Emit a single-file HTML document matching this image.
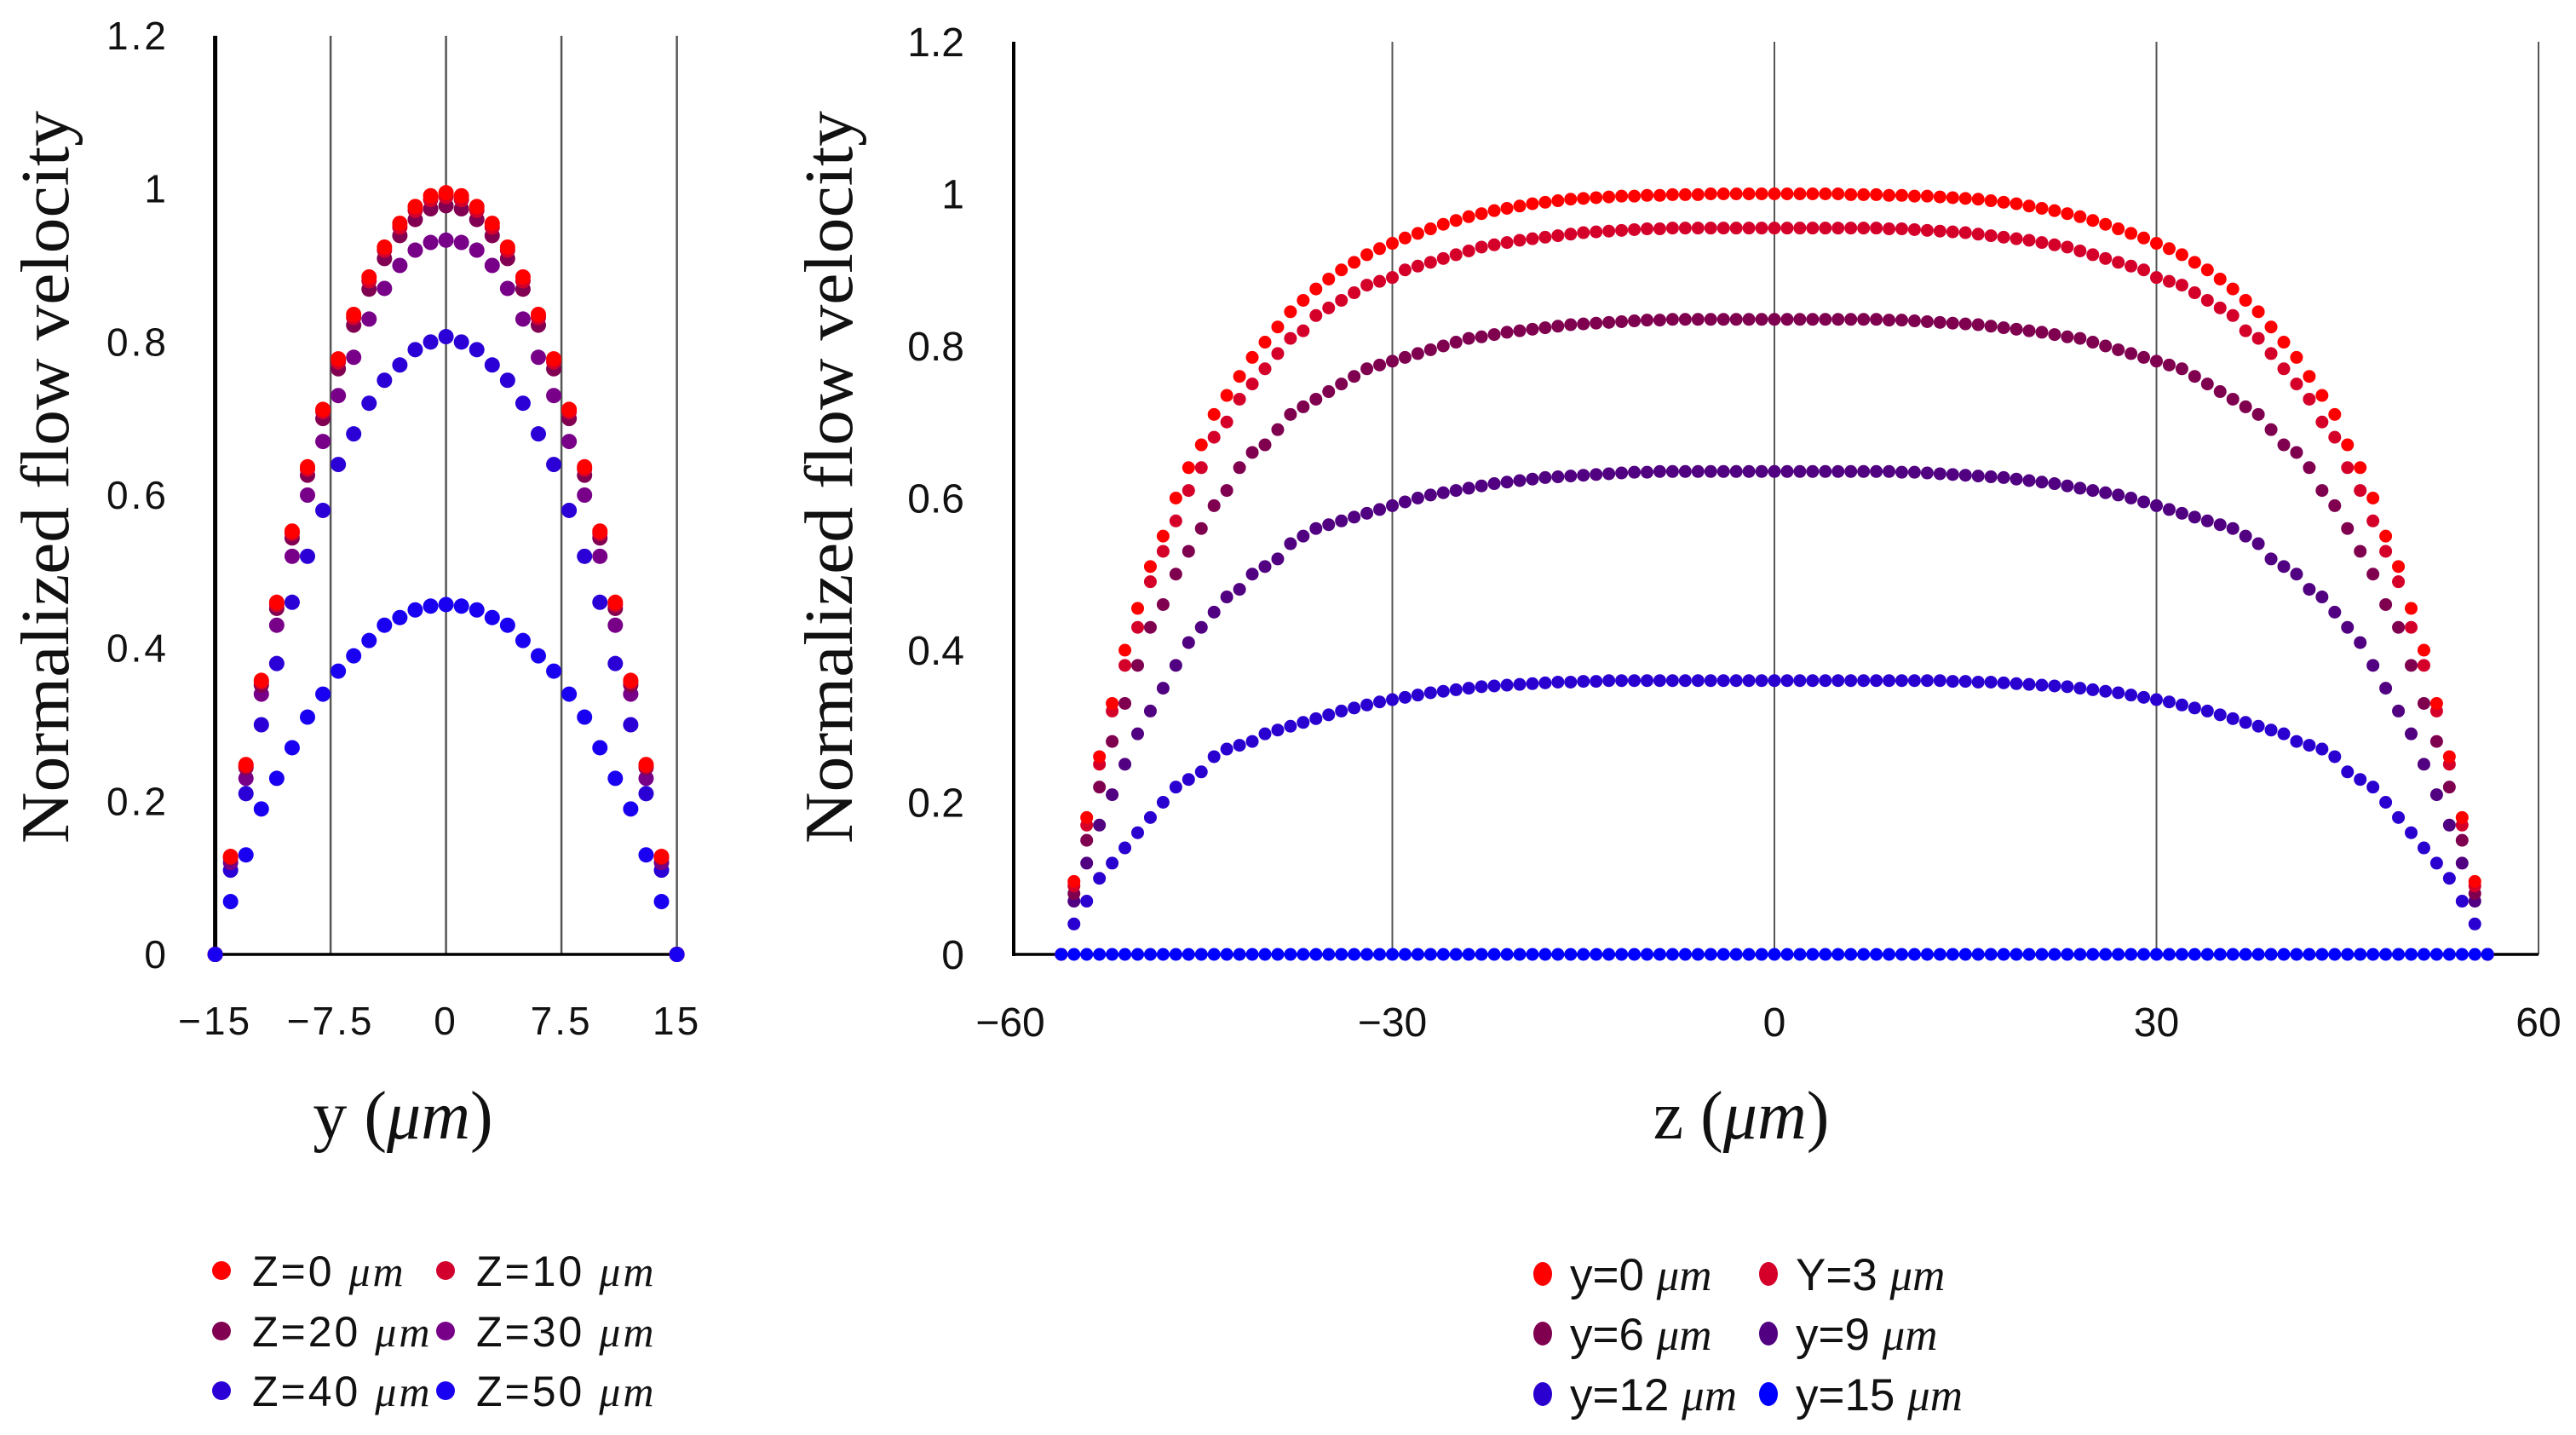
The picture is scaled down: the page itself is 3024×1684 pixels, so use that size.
<!DOCTYPE html>
<html><head><meta charset="utf-8"><style>
html,body{margin:0;padding:0;background:#fff;}
svg{display:block;}
.tk{font-family:"Liberation Sans",sans-serif;font-size:46px;letter-spacing:3px;fill:#111;}
.tkr{font-family:"Liberation Sans",sans-serif;font-size:48px;fill:#111;}
.ttl{font-family:"Liberation Serif",serif;font-size:80px;fill:#111;}
.lg{font-family:"Liberation Sans",sans-serif;font-size:50px;letter-spacing:3px;fill:#111;}
.lgr{font-family:"Liberation Sans",sans-serif;font-size:53px;fill:#111;}
.mu{font-family:"Liberation Serif",serif;font-style:italic;}
</style></head><body>
<svg id="svg" width="3024" height="1684" viewBox="0 0 3024 1684" xmlns="http://www.w3.org/2000/svg">
<g id="left"></g>
<g id="right"></g>
</svg>
<script>
// ---------- Left chart data ----------
const leftY = [-15,-14,-13,-12,-11,-10,-9,-8,-7,-6,-5,-4,-3,-2,-1,0,1,2,3,4,5,6,7,8,9,10,11,12,13,14,15];
const leftNames = ["Z=0 ","Z=10 ","Z=20 ","Z=30 ","Z=40 ","Z=50 "];
const leftColors = ["#ff0000","#d2002c","#820052","#780088","#2a00d6","#1a00f0"];
const leftZ0  = [0,.128,.248,.358,.46,.553,.637,.712,.778,.836,.885,.924,.955,.977,.991,.995,.991,.977,.955,.924,.885,.836,.778,.712,.637,.553,.46,.358,.248,.128,0];
const leftZ10 = [0,.127,.246,.356,.457,.55,.634,.709,.774,.832,.88,.92,.95,.972,.986,.99,.986,.972,.95,.92,.88,.832,.774,.709,.634,.55,.457,.356,.246,.127,0];
const leftZ20 = [0,.126,.244,.352,.452,.544,.626,.70,.765,.822,.869,.909,.939,.960,.974,.978,.974,.960,.939,.909,.869,.822,.765,.70,.626,.544,.452,.352,.244,.126,0];
const leftZ30 = [0,.12,.23,.34,.43,.52,.60,.67,.73,.78,.83,.87,.90,.92,.93,.933,.93,.92,.90,.87,.83,.78,.73,.67,.60,.52,.43,.34,.23,.12,0];
const leftZ40 = [0,.11,.21,.30,.38,.46,.52,.58,.64,.68,.72,.75,.77,.79,.80,.807,.80,.79,.77,.75,.72,.68,.64,.58,.52,.46,.38,.30,.21,.11,0];
const leftZ50 = [0,.069,.13,.19,.23,.27,.31,.34,.37,.39,.41,.43,.44,.45,.455,.457,.455,.45,.44,.43,.41,.39,.37,.34,.31,.27,.23,.19,.13,.069,0];
const leftXTicks = [-15,-7.5,0,7.5,15];
const leftXTickLabels = ["\u221215","\u22127.5","0","7.5","15"];
const leftYTicks = [0,0.2,0.4,0.6,0.8,1,1.2];
const leftYTickLabels = ["0","0.2","0.4","0.6","0.8","1","1.2"];

// ---------- Right chart data ----------
const rightZStart = -56;
const rightNames = ["y=0 ","Y=3 ","y=6 ","y=9 ","y=12 ","y=15 "];
const rightColors = ["#ff0000","#d4002a","#800050","#500080","#2a00d0","#0000ff"];
const rightY0 = [0,.096,.18,.26,.33,.40,.455,.51,.55,.60,.64,.67,.71,.735,.76,.785,.805,.825,.845,.86,.875,.888,.90,.91,.92,.928,.935,.942,.948,.954,.96,.965,.97,.974,.978,.981,.984,.987,.989,.991,.993,.994,.995,.996,.997,.997,.998,.998,.999,.999,.999,1,1,1,1,1,1,1,1,1,1,1,.999,.999,.999,.998,.998,.997,.997,.996,.995,.994,.993,.991,.989,.987,.984,.981,.978,.974,.97,.965,.96,.954,.948,.942,.935,.928,.92,.91,.90,.888,.875,.86,.845,.825,.805,.785,.76,.735,.71,.67,.64,.60,.55,.51,.455,.40,.33,.26,.18,.096,0];
const rightY3 = [0,.09,.17,.25,.32,.38,.43,.49,.53,.57,.61,.64,.68,.70,.73,.75,.77,.79,.81,.82,.84,.85,.86,.87,.88,.885,.89,.90,.905,.91,.915,.92,.925,.93,.933,.936,.939,.941,.943,.945,.947,.949,.95,.951,.952,.953,.954,.954,.955,.955,.955,.955,.955,.955,.955,.955,.955,.955,.955,.955,.955,.955,.955,.955,.955,.954,.954,.953,.952,.951,.95,.949,.947,.945,.943,.941,.939,.936,.933,.93,.925,.92,.915,.91,.905,.90,.89,.885,.88,.87,.86,.85,.84,.82,.81,.79,.77,.75,.73,.70,.68,.64,.61,.57,.53,.49,.43,.38,.32,.25,.17,.09,0];
const rightY6 = [0,.08,.15,.22,.28,.33,.38,.43,.46,.50,.53,.56,.59,.61,.64,.66,.67,.69,.71,.72,.73,.74,.75,.76,.77,.775,.78,.785,.79,.795,.80,.805,.81,.812,.815,.818,.82,.822,.824,.826,.828,.829,.83,.831,.832,.833,.834,.834,.835,.835,.835,.835,.835,.835,.835,.835,.835,.835,.835,.835,.835,.835,.835,.835,.835,.834,.834,.833,.832,.831,.83,.829,.828,.826,.824,.822,.82,.818,.815,.812,.81,.805,.80,.795,.79,.785,.78,.775,.77,.76,.75,.74,.73,.72,.71,.69,.67,.66,.64,.61,.59,.56,.53,.50,.46,.43,.38,.33,.28,.22,.15,.08,0];
const rightY9 = [0,.07,.12,.17,.21,.25,.29,.32,.35,.38,.41,.43,.45,.47,.48,.50,.51,.52,.54,.55,.56,.565,.57,.575,.58,.585,.59,.595,.60,.604,.607,.61,.613,.616,.619,.621,.623,.625,.627,.628,.629,.63,.631,.632,.633,.634,.634,.635,.635,.635,.635,.635,.635,.635,.635,.635,.635,.635,.635,.635,.635,.635,.635,.635,.635,.635,.634,.634,.633,.632,.631,.63,.629,.628,.627,.625,.623,.621,.619,.616,.613,.61,.607,.604,.60,.595,.59,.585,.58,.575,.57,.565,.56,.55,.54,.52,.51,.50,.48,.47,.45,.43,.41,.38,.35,.32,.29,.25,.21,.17,.12,.07,0];
const rightY12 = [
  0,.04,.07,.10,.12,.14,.16,.18,.20,.22,
  .23,.24,.26,.27,.275,.28,.29,.295,.30,.305,
  .31,.315,.32,.324,.328,.332,.335,.338,.341,.344,
  .346,.348,.35,.352,.353,.354,.355,.356,.357,.358,
  .358,.359,.359,.36,
  .36,.36,.36,.36,.36,.36,.36,.36,.36,.36,
  .36,.36,.36,.36,.36,.36,.36,.36,.36,.36,
  .36,.36,.36,.36,.36,.36,
  .359,.359,.358,.358,.357,.356,.355,.354,.353,.352,
  .35,.348,.346,.344,.341,.338,.335,.332,.328,.324,
  .32,.315,.31,.305,.30,.295,.29,.28,.275,.27,
  .26,.24,.23,.22,.20,.18,.16,.14,.12,.10,
  .07,.04,0];
const rightY15 = [
  0,0,0,0,0,0,0,0,0,0,
  0,0,0,0,0,0,0,0,0,0,
  0,0,0,0,0,0,0,0,0,0,
  0,0,0,0,0,0,0,0,0,0,
  0,0,0,0,0,0,0,0,0,0,
  0,0,0,0,0,0,0,0,0,0,
  0,0,0,0,0,0,0,0,0,0,
  0,0,0,0,0,0,0,0,0,0,
  0,0,0,0,0,0,0,0,0,0,
  0,0,0,0,0,0,0,0,0,0,
  0,0,0,0,0,0,0,0,0,0,
  0,0,0];
const rightXTicks = [-60,-30,0,30,60];
const rightXTickLabels = ["\u221260","\u221230","0","30","60"];
const rightYTicks = [0,0.2,0.4,0.6,0.8,1,1.2];
const rightYTickLabels = ["0","0.2","0.4","0.6","0.8","1","1.2"];

const NS = "http://www.w3.org/2000/svg";
function mk(tag, attrs, parent){const e=document.createElementNS(NS,tag);for(const k in attrs)e.setAttribute(k,attrs[k]);parent.appendChild(e);return e;}
const drawOrder = [4,3,2,1,0,5];

// ---------- Left chart ----------
(function(){
  const g = document.getElementById('left');
  const xL=252.6, xR=794.6, y0=1120, yTop=42;
  const sx = v => xL + (v - (-15)) / 30 * (xR - xL);
  const sy = v => y0 - v / 1.2 * (y0 - yTop);
  leftXTicks.forEach((t,i)=>{
    if(i>0){
      const l=mk('line',{x1:sx(t),x2:sx(t),y1:yTop,y2:y0,stroke:'#555','stroke-width':2.5},g);
      
      
    }
    const tx=mk('text',{x:sx(t),y:1214,'text-anchor':'middle',class:'tk'},g);
    tx.textContent=leftXTickLabels[i];
    
    
  });
  leftYTicks.forEach((t,i)=>{
    const tx=mk('text',{x:198,y:sy(t)+16,'text-anchor':'end',class:'tk'},g);
    tx.textContent=leftYTickLabels[i];
    
    
  });
  const ax=mk('line',{x1:xL,x2:xL,y1:yTop,y2:y0+2,stroke:'#000','stroke-width':5},g);
  
  
  const bx=mk('line',{x1:xL,x2:xR,y1:y0,y2:y0,stroke:'#000','stroke-width':3.5},g);
  
  
  const series=[leftZ0,leftZ10,leftZ20,leftZ30,leftZ40,leftZ50];
  drawOrder.forEach(s=>{
    const sg=mk('g',{},g);
    
    
    series[s].forEach((v,i)=>{
      const c=mk('circle',{cx:sx(leftY[i]),cy:sy(v),r:9,fill:leftColors[s]},sg);
      
      
    });
  });
  const yt=mk('text',{x:0,y:0,class:'ttl',transform:'translate(80,560) rotate(-90)','text-anchor':'middle',textLength:860,lengthAdjust:'spacingAndGlyphs'},g);
  yt.textContent='Normalized flow velocity';
  
  
  const xt=mk('text',{x:473,y:1336,'text-anchor':'middle',class:'ttl','font-size':76},g);
  xt.innerHTML='y (<tspan class="mu">μm</tspan>)';
  
  
  const cols=[260,523], rows=[1491,1562,1632];
  leftNames.forEach((n,i)=>{
    const cx=cols[i%2], cy=rows[Math.floor(i/2)];
    const lg=mk('g',{},g);
    
    
    mk('circle',{cx:cx,cy:cy,r:11,fill:leftColors[i]},lg);
    const t=mk('text',{x:cx+36,y:cy+18,class:'lg'},lg);
    t.innerHTML=n+'<tspan class="mu">μm</tspan>';
  });
})();

// ---------- Right chart ----------
(function(){
  const g = document.getElementById('right');
  const xL=1186, xR=2980, y0=1120, yTop=49;
  const sx = v => xL + (v + 60) / 120 * (xR - xL);
  const sy = v => y0 - v / 1.2 * (y0 - yTop);
  rightXTicks.forEach((t,i)=>{
    if(i>0){
      const l=mk('line',{x1:sx(t),x2:sx(t),y1:yTop,y2:y0,stroke:'#555','stroke-width':2},g);
      
      
    }
    const tx=mk('text',{x:sx(t),y:1216,'text-anchor':'middle',class:'tkr'},g);
    tx.textContent=rightXTickLabels[i];
    
    
  });
  rightYTicks.forEach((t,i)=>{
    const tx=mk('text',{x:1132,y:sy(t)+17,'text-anchor':'end',class:'tkr'},g);
    tx.textContent=rightYTickLabels[i];
    
    
  });
  const ax=mk('line',{x1:1190,x2:1190,y1:yTop,y2:y0+2,stroke:'#000','stroke-width':4},g);
  
  
  const bx=mk('line',{x1:1190,x2:xR,y1:y0,y2:y0,stroke:'#000','stroke-width':3.5},g);
  
  
  const series=[rightY0,rightY3,rightY6,rightY9,rightY12,rightY15];
  drawOrder.forEach(s=>{
    const sg=mk('g',{},g);
    
    
    series[s].forEach((v,i)=>{
      const c=mk('circle',{cx:sx(rightZStart+i),cy:sy(v),r:7.5,fill:rightColors[s]},sg);
      
      
    });
  });
  const yt=mk('text',{x:0,y:0,class:'ttl',transform:'translate(1000,560) rotate(-90)','text-anchor':'middle',textLength:860,lengthAdjust:'spacingAndGlyphs'},g);
  yt.textContent='Normalized flow velocity';
  
  
  const xt=mk('text',{x:2044,y:1336,'text-anchor':'middle',class:'ttl','font-size':76},g);
  xt.innerHTML='z (<tspan class="mu">μm</tspan>)';
  
  
  const cols=[1811,2076], rows=[1495,1565,1636];
  rightNames.forEach((n,i)=>{
    const cx=cols[i%2], cy=rows[Math.floor(i/2)];
    const lg=mk('g',{},g);
    
    
    mk('ellipse',{cx:cx,cy:cy,rx:11,ry:14,fill:rightColors[i]},lg);
    const t=mk('text',{x:cx+32,y:cy+19,class:'lgr'},lg);
    t.innerHTML=n+'<tspan class="mu">μm</tspan>';
  });
})();
</script>
</body></html>
